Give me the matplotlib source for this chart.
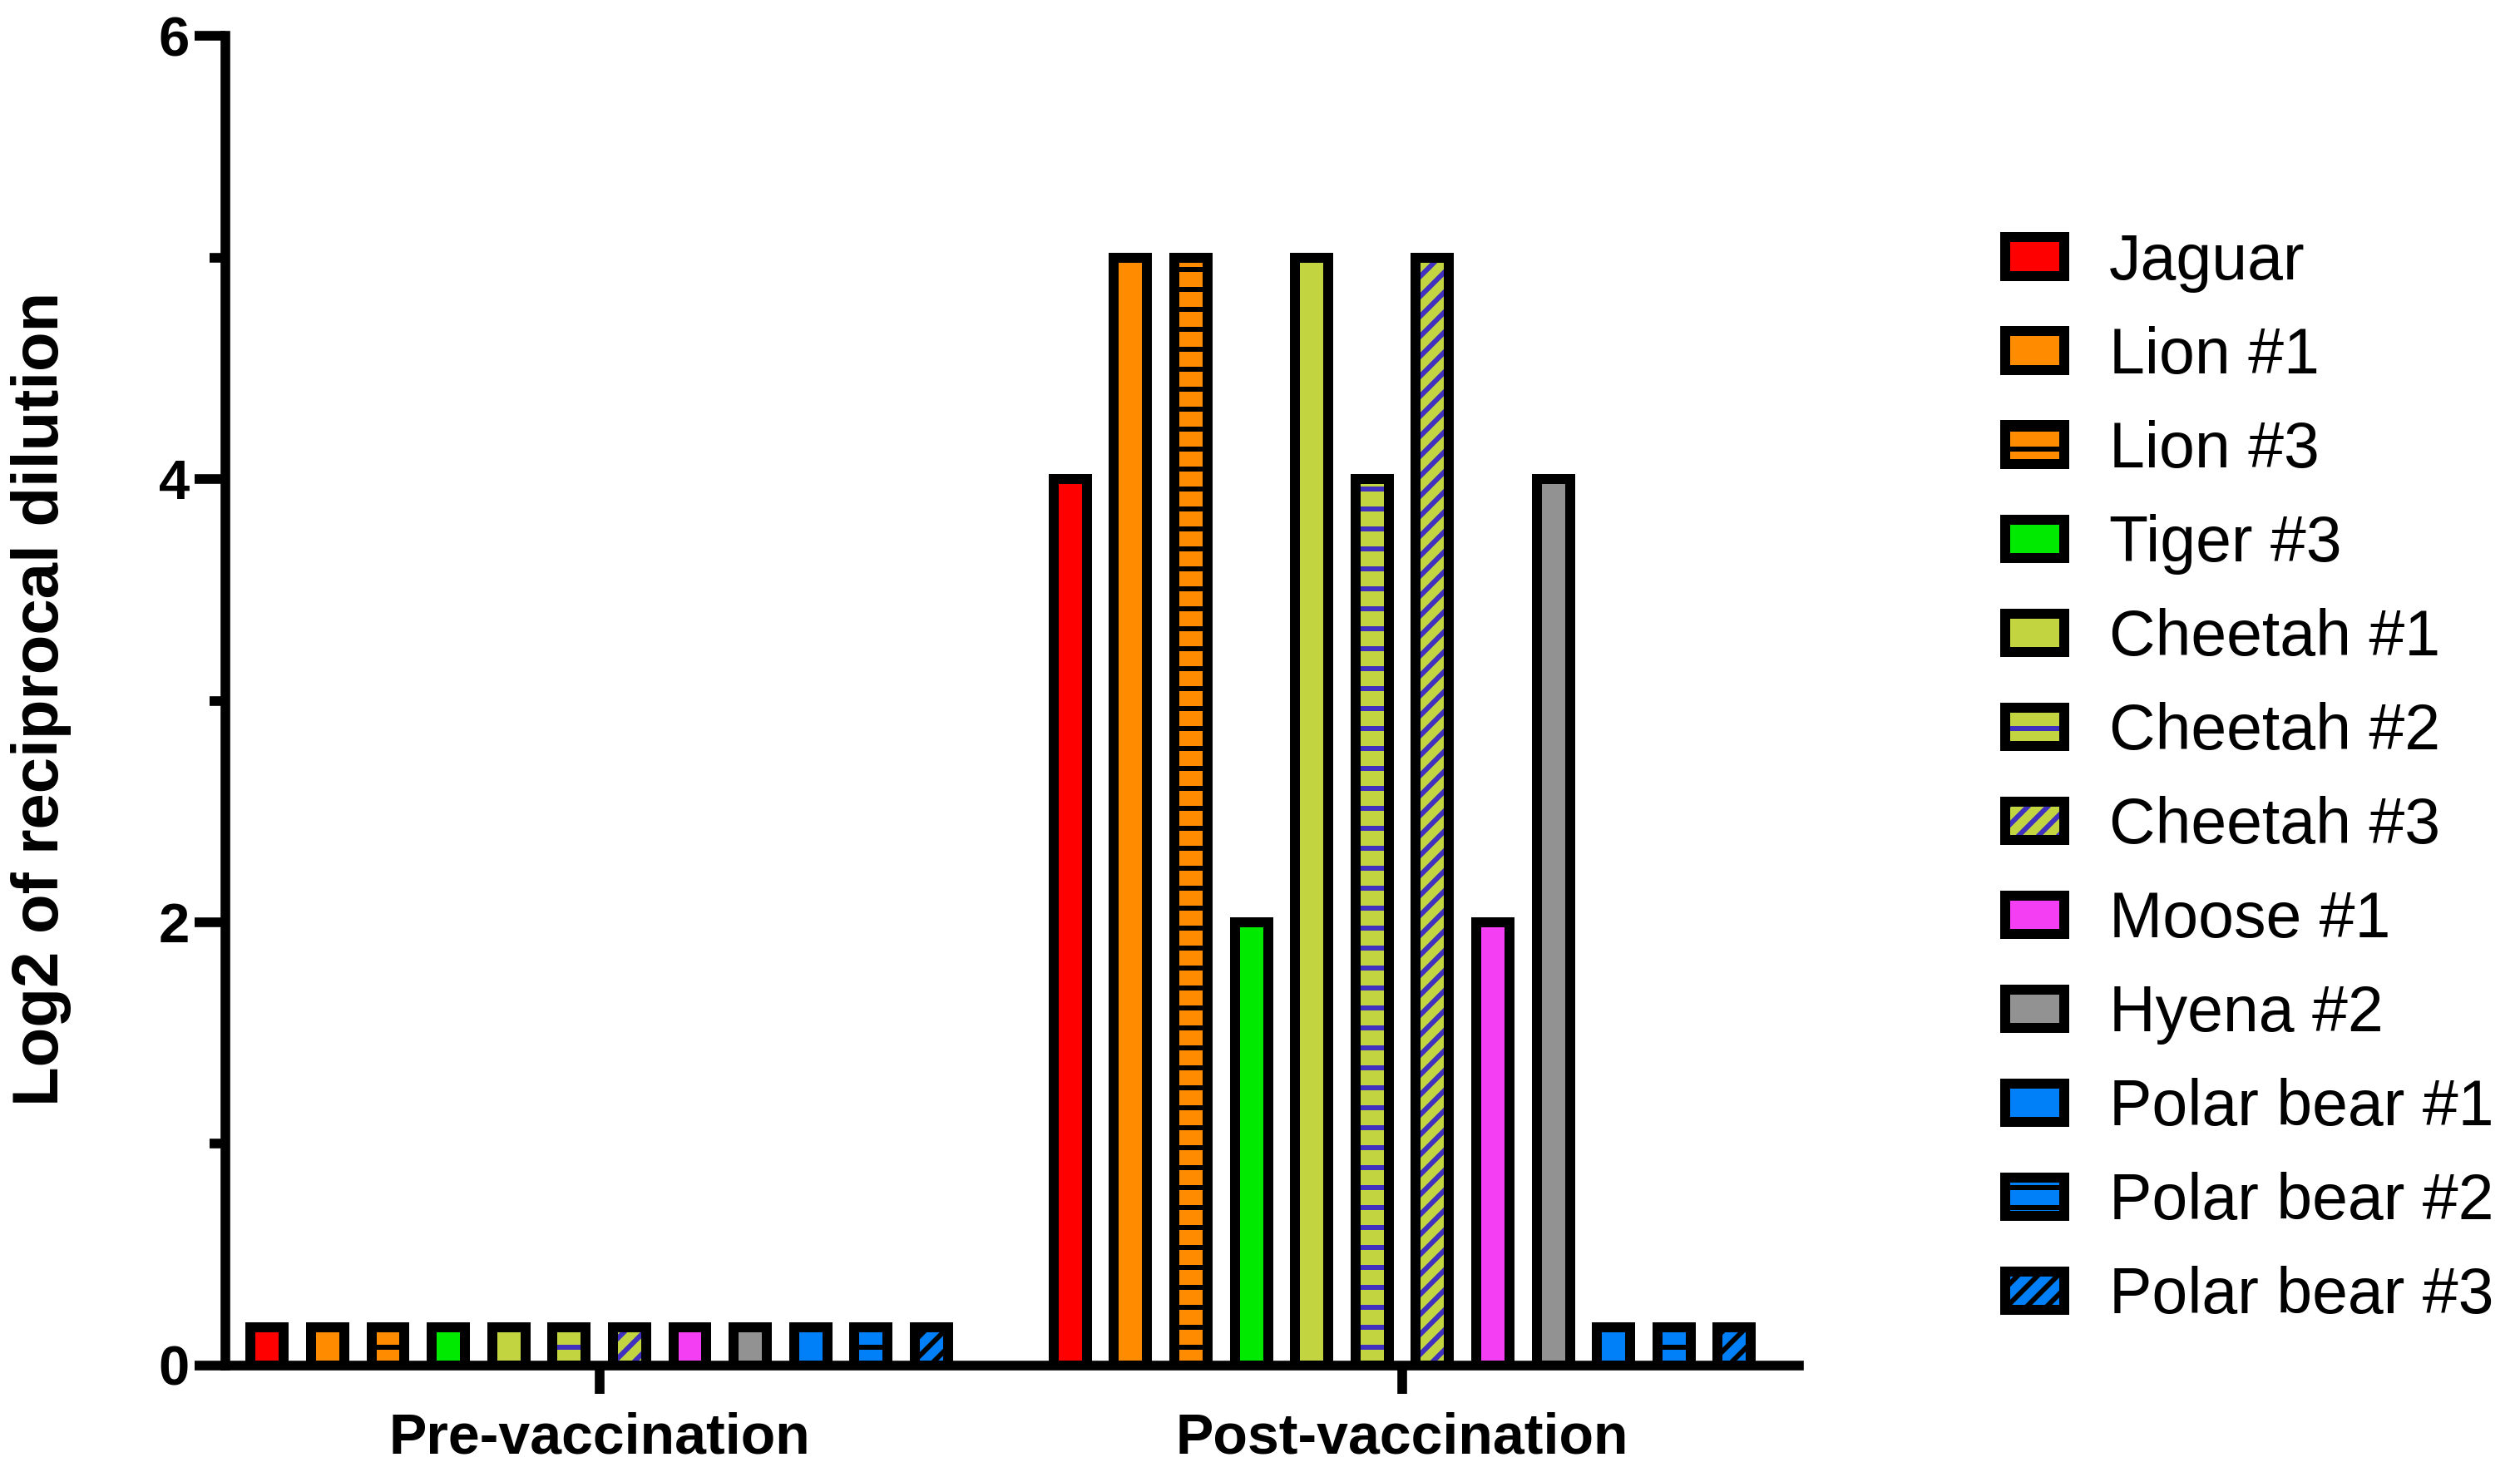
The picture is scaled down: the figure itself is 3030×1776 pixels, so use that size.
import matplotlib
matplotlib.use("Agg")
import matplotlib.pyplot as plt
import matplotlib.patches as mpatches

# ---------------- data ----------------
groups = ["Pre-vaccination", "Post-vaccination"]
animals = ["Jaguar", "Lion #1", "Lion #3", "Tiger #3", "Cheetah #1", "Cheetah #2",
           "Cheetah #3", "Moose #1", "Hyena #2", "Polar bear #1", "Polar bear #2",
           "Polar bear #3"]
pre_values = [0.17, 0.17, 0.17, 0.17, 0.17, 0.17, 0.17, 0.17, 0.17, 0.17, 0.17, 0.17]
post_values = [4, 5, 5, 2, 5, 4, 5, 2, 4, 0.17, 0.17, 0.17]
yticks_major = [0, 2, 4, 6]
yticks_minor = [1, 3, 5]
ylabel = "Log2 of reciprocal dilution"

# ---------------- styles ----------------
fills = ["#FF0000", "#FF8C00", "#FF8C00", "#00EA00", "#C2D540", "#C2D540",
         "#C2D540", "#F43EF4", "#929292", "#0080F8", "#0080F8", "#0080F8"]
hatches = [None, None, "-", None, None, "-", "//", None, None, None, "-", "//"]
hatch_colors = ["black", "black", "black", "black", "black", "#4030C0",
                "#4030C0", "black", "black", "black", "black", "black"]

plt.rcParams["font.family"] = ["Liberation Sans", "DejaVu Sans"]
plt.rcParams["hatch.linewidth"] = 3.0

DPI = 144
fig = plt.figure(figsize=(3030 / DPI, 1776 / DPI), dpi=DPI)
ax = fig.add_axes([0.0896, 0.0756, 0.6243, 0.9000])

group_offsets = [0.0, 13.3]
bar_w = 0.55
EDGE_LW = 6.0
values_by_group = [pre_values, post_values]

legend_handles = []
for i, name in enumerate(animals):
    xs = [group_offsets[g] + i for g in range(len(groups))]
    hs = [values_by_group[g][i] for g in range(len(groups))]
    ax.bar(xs, hs, width=bar_w, color=fills[i], hatch=hatches[i],
           edgecolor=hatch_colors[i], linewidth=0, zorder=2)
    ax.bar(xs, hs, width=bar_w, facecolor="none", edgecolor="black",
           linewidth=EDGE_LW, zorder=3)
    p_fill = mpatches.Patch(facecolor=fills[i], hatch=hatches[i],
                            edgecolor=hatch_colors[i], linewidth=0)
    p_edge = mpatches.Patch(facecolor="none", edgecolor="black", linewidth=EDGE_LW)
    legend_handles.append((p_fill, p_edge))

ax.set_xlim(-0.686, 25.37)
ax.set_ylim(0, 6)

for s in ["top", "right"]:
    ax.spines[s].set_visible(False)
for s in ["left", "bottom"]:
    ax.spines[s].set_linewidth(5.8)
    ax.spines[s].set_capstyle("projecting")
ax.spines["left"].set_bounds(0, 6)

ax.set_yticks(yticks_major)
ax.set_yticks(yticks_minor, minor=True)
ax.set_yticklabels([str(v) for v in yticks_major], fontweight="bold", fontsize=33.5)
ax.tick_params(axis="y", which="major", length=18.75, width=5.8, pad=3)
ax.tick_params(axis="y", which="minor", length=9.5, width=5.8)

centers = [group_offsets[g] + (len(animals) - 1) / 2 for g in range(len(groups))]
ax.set_xticks(centers)
ax.set_xticklabels(groups, fontweight="bold", fontsize=34)
ax.tick_params(axis="x", which="major", length=17, width=5.8, pad=11)
ax.tick_params(axis="x", which="minor", bottom=False)

fig.text(0.0162, 0.527, ylabel, rotation=90, ha="center", va="center",
         fontsize=39, fontweight="bold")

fig.legend(legend_handles, animals, loc="upper left",
           bbox_to_anchor=(0.7958, 0.843), frameon=False, fontsize=38.5,
           handlelength=0.92, handleheight=0.55, handletextpad=0.7,
           labelspacing=0.52, borderpad=0, borderaxespad=0)

fig.savefig("out.png", dpi=DPI)
